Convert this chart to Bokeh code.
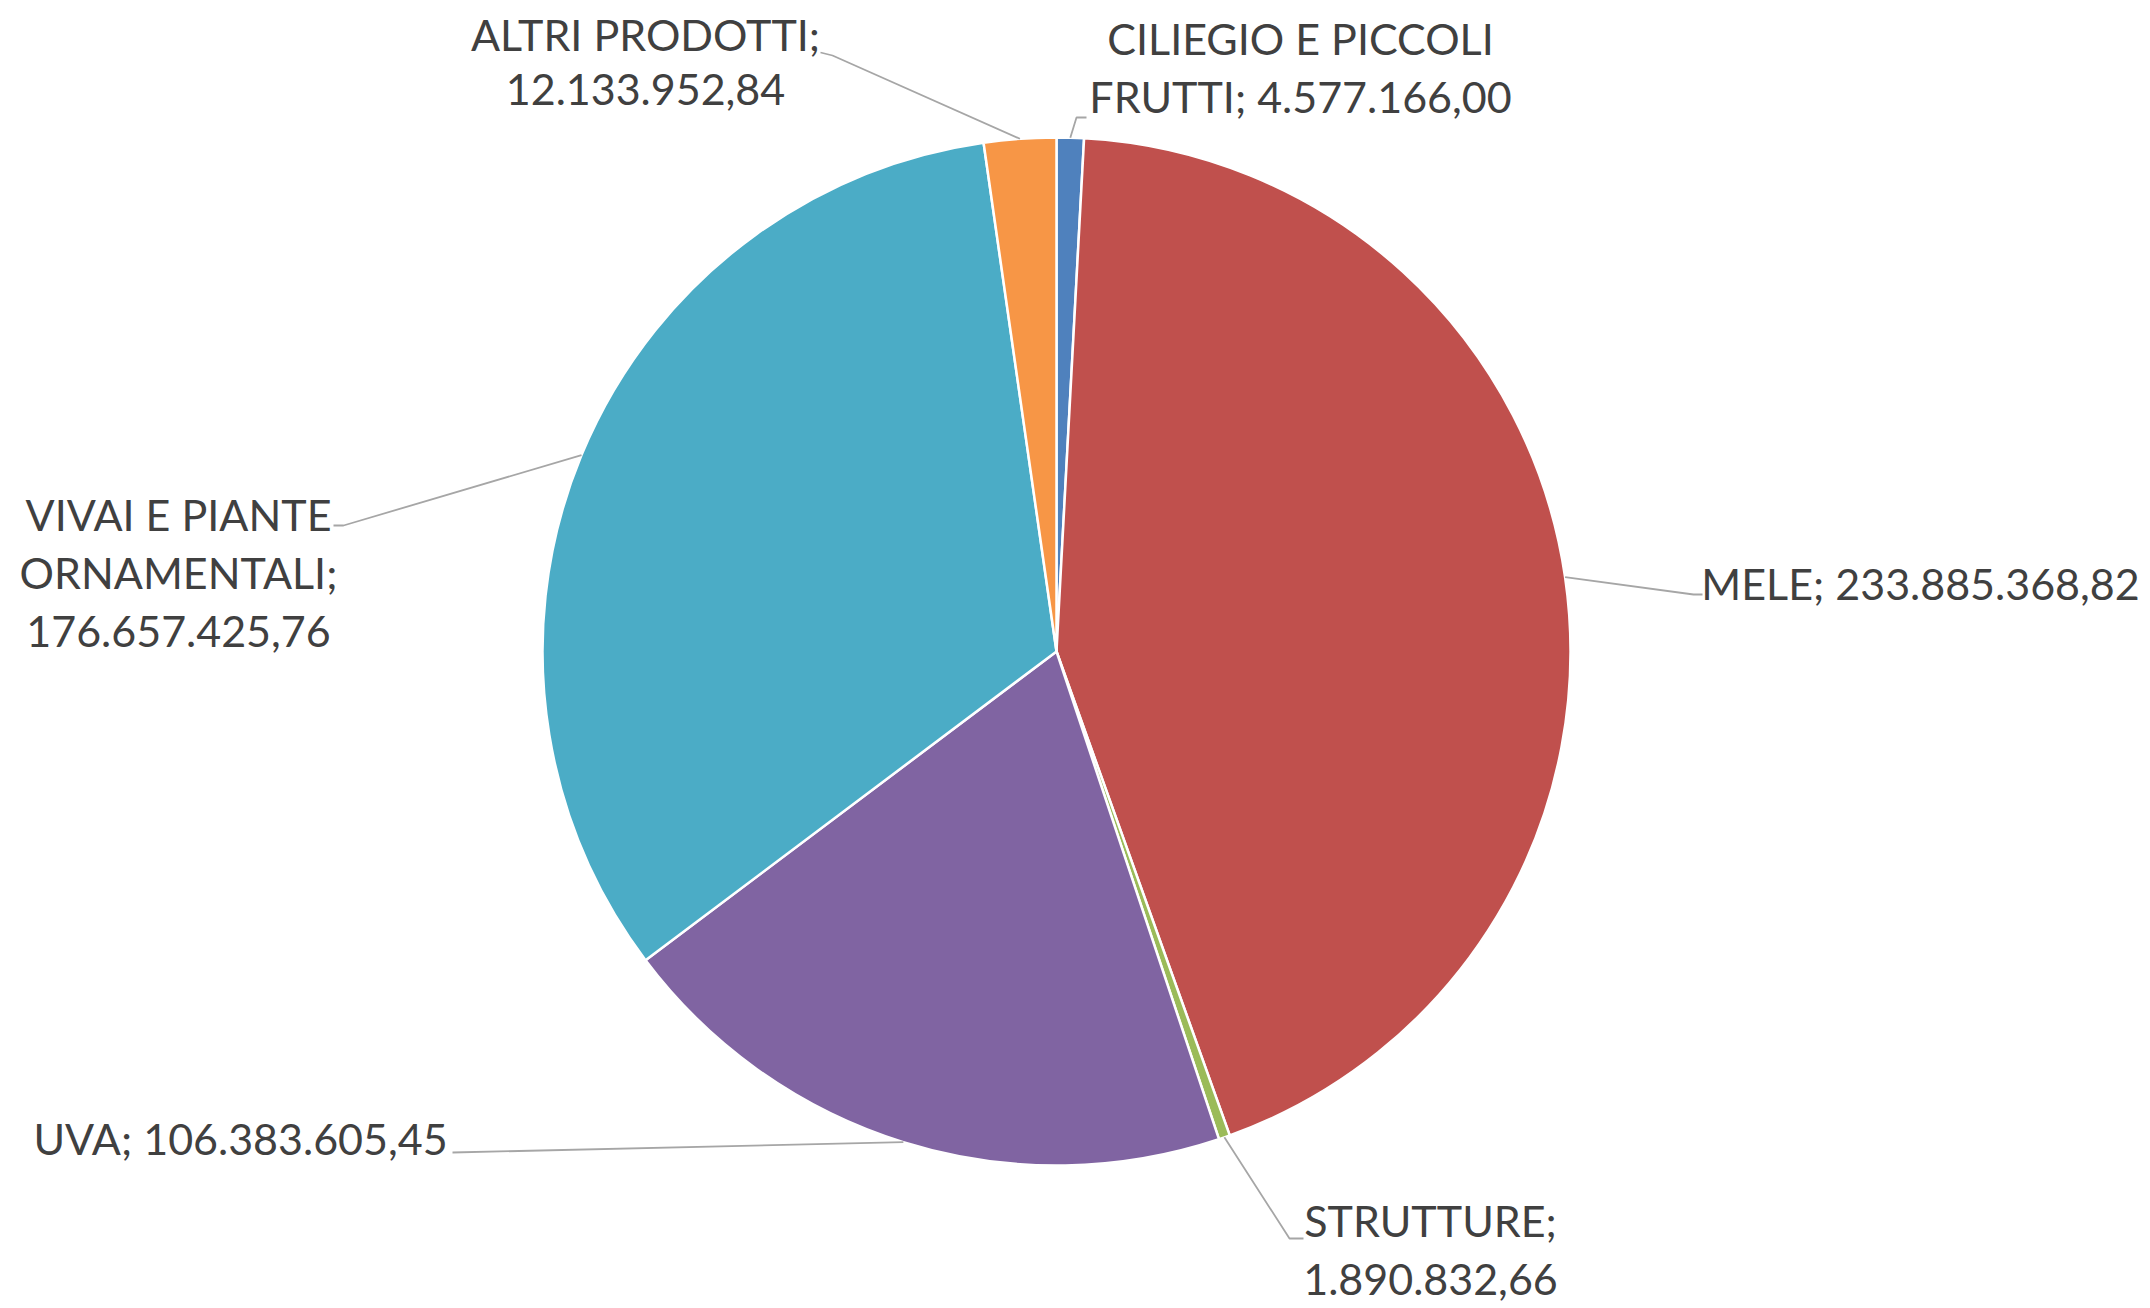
import math
from bokeh.plotting import figure
from bokeh.models import Range1d
from bokeh.core.properties import value
from bokeh.embed import file_html
from bokeh.resources import INLINE

# ---- data ----
categories = ["CILIEGIO E PICCOLI FRUTTI", "MELE", "STRUTTURE", "UVA",
              "VIVAI E PIANTE ORNAMENTALI", "ALTRI PRODOTTI"]
values = [4577166.00, 233885368.82, 1890832.66, 106383605.45,
          176657425.76, 12133952.84]
colors = ["#4F81BD", "#C0504D", "#9BBB59", "#8064A2", "#4BACC6", "#F79646"]

# ---- layout (screen pixels of the page) ----
W, H = 2150, 1308
CX, CY, R = 1056, 651, 514
words_per_line = [[3, 2], [3], [1, 1], [3], [3, 1, 1], [2, 1]]
label_x = [1300, 1920, 1430, 240, 178, 645]
label_y = [[38, 96], [583], [1220, 1279], [1138], [514, 572, 631], [34, 89]]
# leader line extra points (elbow, end) in screen px
leader_pts = [[(1076, 117), (1086, 117)],
              [(1693, 594), (1702, 594)],
              [(1289, 1238), (1303, 1238)],
              [(452, 1152)],
              [(343, 525), (333, 525)],
              [(832, 55), (820, 52)]]


def fmt_it(v):
    s = f"{v:,.2f}"
    return s.replace(",", "X").replace(".", ",").replace("X", ".")


def sy(y):
    return H - y


# figure is rendered at the page's top-left, so data coords == screen px
p = figure(width=W, height=H, output_backend="svg", toolbar_location=None,
           x_range=Range1d(0, W), y_range=Range1d(0, H),
           x_axis_location=None, y_axis_location=None, min_border=0)
p.grid.visible = False
p.outline_line_color = None
p.background_fill_color = "white"

total = sum(values)
starts, ends, mids = [], [], []
cum = 0.0
for v in values:
    f0 = cum / total
    cum += v
    f1 = cum / total
    # clockwise from 12 o'clock
    starts.append(math.pi / 2 - f1 * 2 * math.pi)
    ends.append(math.pi / 2 - f0 * 2 * math.pi)
    mids.append((f0 + f1) / 2)

p.wedge(x=[CX] * len(values), y=[sy(CY)] * len(values), radius=R,
        start_angle=starts, end_angle=ends, direction="anticlock",
        fill_color=colors, line_color="white", line_width=2.5)

# leader lines
for i, m in enumerate(mids):
    a = m * 2 * math.pi
    px = CX + R * math.sin(a)
    py = CY - R * math.cos(a)
    xs = [px] + [q[0] for q in leader_pts[i]]
    ys = [sy(py)] + [sy(q[1]) for q in leader_pts[i]]
    p.line(xs, ys, line_color="#A6A6A6", line_width=1.8)

# labels
tx, ty, tt = [], [], []
for i, (cat, v) in enumerate(zip(categories, values)):
    words = f"{cat}; {fmt_it(v)}".split(" ")
    k = 0
    for j, n in enumerate(words_per_line[i]):
        tt.append(" ".join(words[k:k + n]))
        k += n
        tx.append(label_x[i])
        ty.append(sy(label_y[i][j]))

p.text(x=tx, y=ty, text=tt, text_align="center", text_baseline="middle",
       text_font=value("Lato"), text_font_size="43px", text_color="#404040")

open("out.html", "w").write(file_html(p, INLINE))
